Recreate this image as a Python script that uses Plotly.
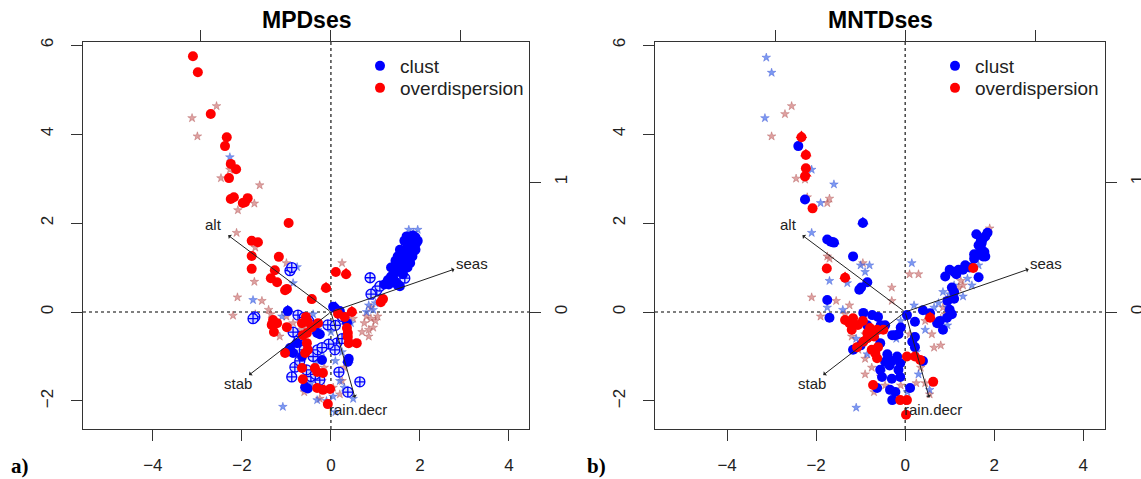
import plotly.graph_objects as go

# ---------------- data (site scores) ----------------
# Panel a) MPDses
mpd_clust = [(1.20, 0.62), (1.28, 0.72), (1.35, 0.80), (1.42, 0.88), (1.48, 0.95), (1.52, 1.02), (1.58, 1.08),
             (1.62, 1.15), (1.66, 1.22), (1.70, 1.30), (1.74, 1.38), (1.78, 1.45), (1.82, 1.52), (1.86, 1.60),
             (1.90, 1.68), (1.55, 0.90), (1.60, 0.98), (1.65, 1.05), (1.70, 1.12), (1.75, 1.20), (1.80, 1.28),
             (1.85, 1.35), (1.62, 1.30), (1.68, 1.40), (1.72, 1.50), (1.76, 1.58), (1.80, 1.65), (1.84, 1.72),
             (1.50, 0.60), (1.45, 0.68), (1.40, 0.75), (1.88, 1.45), (1.92, 1.55), (1.58, 1.20), (1.78, 1.10),
             (1.83, 1.25), (1.35, 1.00), (1.45, 1.15), (1.50, 1.25), (1.55, 1.40), (1.65, 1.60), (1.70, 1.70),
             (1.62, 0.85), (1.72, 1.00), (1.90, 1.40), (1.95, 1.60), (1.30, 0.62), (1.55, 0.58),
             (-0.97, 0.02), (0.10, 0.08), (0.05, 0.12), (-0.31, -0.47), (-0.25, -0.50),
             (-0.76, -0.70), (-0.92, -0.81), (-0.85, -0.92), (-0.20, -1.08), (-0.58, -1.69), (-0.52, -1.72),
             (0.38, -1.12), (0.40, -1.05), (0.36, -0.24), (-0.65, -1.00), (0.20, 0.02)]
mpd_over = [(-3.10, 5.75), (-2.99, 5.39), (-2.70, 4.45), (-2.34, 3.93), (-2.38, 3.73), (-2.25, 3.33), (-2.13, 3.21),
            (-2.29, 3.01), (-2.25, 2.54), (-2.18, 2.58), (-1.98, 2.45), (-1.87, 2.56), (-1.93, 2.47), (-0.95, 2.00),
            (-1.78, 1.60), (-1.64, 1.57), (-1.78, 1.26), (-1.17, 1.24), (-1.78, 0.97), (-1.26, 0.94), (-1.35, 0.76),
            (-1.21, 0.67), (-0.99, 0.52), (-1.03, 0.49), (-0.43, 0.29), (0.11, 0.90), (0.34, 0.85), (-0.11, 0.54),
            (1.17, 0.29), (1.12, 0.22), (0.16, -0.04), (0.47, 0.00), (0.31, -0.11), (0.36, -0.36), (0.38, -0.56),
            (-1.30, -0.18), (-1.33, -0.29), (-1.21, -0.25), (-1.28, -0.45), (-0.99, -0.34), (-0.56, -0.11),
            (-0.52, -0.22), (-0.65, -0.25), (-0.43, -0.34), (-0.29, -0.25), (-0.54, -0.47), (-0.63, -0.52),
            (-0.54, -0.70), (-0.52, -0.85), (-1.03, -0.92), (-0.58, -0.92), (-0.65, -1.26), (-0.63, -1.51),
            (-0.36, -1.26), (-0.31, -1.35), (-0.18, -1.37), (-0.31, -1.71), (-0.18, -1.75), (-0.02, -1.73),
            (-0.07, -2.07), (0.40, -0.70), (0.58, -0.70), (0.38, -0.47)]
mpd_clust_open = [(-1.71, -0.11), (-1.75, -0.15), (-0.74, -0.07), (-0.60, -0.12), (-0.07, -0.29), (0.13, -0.70),
                  (0.09, -0.85), (-0.81, -1.24), (-0.88, -1.46), (-0.25, -1.53), (0.65, -1.57), (0.38, -1.80),
                  (-0.92, 0.93), (-0.88, 1.00), (0.25, -0.60), (-0.45, -1.45), (-0.35, -1.40), (-0.60, -0.85),
                  (-0.70, -1.10), (-0.40, -1.00), (-0.55, -1.30), (-0.72, -0.55), (0.25, -0.10), (0.10, -0.30),
                  (-0.30, -0.85), (0.88, 0.77), (1.66, 0.76), (1.03, 0.49), (1.10, 0.58), (0.90, 0.40),
                  (-0.05, -0.72), (-0.85, -0.45), (-0.50, -0.20), (-0.20, -0.80), (0.18, -1.35)]
mpd_clust_ns = [(-2.27, 3.48), (-0.76, 1.01), (-1.75, 0.27), (-0.85, 0.65), (-1.08, -2.13), (-0.31, -1.98),
                (-0.10, -2.00), (0.10, -2.25), (0.95, 0.45), (0.90, 0.35), (0.85, 0.15), (0.95, 0.05), (1.00, 0.20),
                (1.10, 0.35), (0.80, 0.00), (1.75, 1.85), (1.95, 1.85), (1.85, 1.78), (-0.90, -0.80), (-1.00, -0.90),
                (-0.75, -0.95), (0.00, -0.45), (-0.20, -0.90), (-0.45, -1.60), (-0.60, -1.50), (0.25, -0.90),
                (0.10, -1.10), (0.30, -1.70), (0.50, -1.95), (0.20, -1.55), (-0.35, -1.10), (-0.65, -0.75),
                (-1.10, -0.10), (-0.40, -0.05), (0.05, -1.90), (-0.30, -0.40), (0.45, -0.25), (0.55, -0.70)]
mpd_over_ns = [(-2.57, 4.63), (-3.12, 4.36), (-3.00, 3.95), (-2.27, 3.20), (-2.47, 3.01), (-1.60, 2.85),
               (-1.72, 2.44), (-2.09, 2.29), (-2.12, 1.78), (-1.70, 1.45), (-1.72, 0.68), (-2.10, 0.33),
               (-1.55, 0.25), (-2.20, -0.08), (-1.70, -0.05), (-1.40, 0.05), (-1.35, -0.05), (-1.00, 1.10),
               (-0.55, -0.30), (0.25, 1.10), (0.80, -0.10), (0.90, -0.15), (0.75, -0.25), (0.85, -0.40),
               (0.95, -0.35), (1.00, -0.20), (1.05, -0.10), (0.90, 0.10), (0.85, -0.55), (0.70, -0.45),
               (-1.00, -0.10), (-0.85, -0.25), (-0.70, -0.40), (-1.15, -0.55), (-0.45, -0.90), (-0.30, -1.05),
               (-0.15, -1.25), (-0.45, -1.35), (-0.20, -1.55), (0.25, -1.55), (0.35, -1.80), (0.05, -1.70),
               (-0.60, -1.80), (-0.25, -1.95), (0.20, -1.85), (-0.65, -1.10), (0.30, -1.25), (0.50, -0.15),
               (0.40, -0.65), (0.15, -0.30)]
mpd_clust_tri = [(-0.97, 0.05), (0.10, 0.13), (-0.30, -0.44), (0.38, -1.08), (-0.55, -1.66), (-0.82, -0.70),
                 (0.36, -0.20)]
mpd_over_tri = [(-0.11, 0.57), (0.34, 0.88), (0.47, 0.03)]

# Panel b) MNTDses
mntd_clust = [(-2.40, 3.73), (-2.25, 2.53), (-0.95, 2.00), (-1.75, 1.63), (-1.67, 1.58), (-1.60, 1.56),
              (-1.17, 1.25), (-0.85, 0.67), (-0.99, 0.55), (-1.03, 0.50), (-1.75, 0.27), (-1.70, -0.13),
              (-0.94, -0.02), (-0.74, -0.07), (-0.61, -0.11), (-0.55, -0.30), (-0.60, -0.40), (-0.29, -0.52),
              (-0.22, -0.52), (-0.10, -0.35), (0.04, -0.07), (0.22, -0.22), (0.40, 0.04), (0.56, -0.03),
              (0.72, -0.25), (0.85, -0.40), (0.78, -0.20), (0.94, -0.13), (1.00, 0.05), (1.05, -0.05), (0.95, 0.25),
              (1.05, 0.55), (1.10, 0.45), (1.10, 0.30), (0.90, 0.80), (0.22, -0.79), (0.22, -0.56), (0.16, -0.67),
              (-0.18, -1.00), (-0.30, -1.10), (-0.11, -1.15), (-0.11, -1.46), (-0.15, -1.30), (-0.56, -0.70),
              (-0.45, -1.12), (-0.56, -1.30), (-0.52, -1.46), (-0.30, -1.50), (-0.63, -1.71), (-0.34, -1.75),
              (-0.22, -1.80), (0.40, -1.10), (0.11, -1.71), (-0.29, -1.98), (-0.35, -1.20), (-1.17, -0.85),
              (-1.00, -0.75), (-0.40, -0.95), (-0.85, -0.30), (-0.45, -0.30), (-0.15, -0.50), (1.00, 0.95),
              (1.10, 0.90), (1.15, 0.85), (1.20, 0.95), (1.35, 1.05), (1.55, 1.30), (1.62, 1.30), (1.70, 1.30),
              (1.75, 1.25), (1.78, 1.35), (1.65, 1.50), (1.70, 1.60), (1.75, 1.65), (1.80, 1.70), (1.85, 1.78),
              (1.60, 1.75), (1.70, 1.45), (1.65, 0.78), (1.55, 1.20), (1.72, 1.55), (1.45, 1.00), (1.30, 0.95),
              (1.80, 1.25)]
mntd_over = [(-2.33, 3.93), (-2.23, 3.53), (-2.23, 3.23), (-2.25, 3.05), (-2.08, 2.33), (-1.76, 0.98),
             (-1.35, 0.77), (1.53, 0.99), (0.56, -0.13), (-1.35, -0.18), (-1.17, -0.14), (-1.06, -0.29),
             (-1.20, -0.40), (-0.79, -0.36), (-0.63, -0.40), (-0.49, -0.40), (-0.85, -0.47), (-0.85, -0.59),
             (-0.94, -0.67), (-1.08, -0.79), (-0.61, -0.79), (-0.67, -0.93), (-0.63, -1.04), (-0.75, -0.85),
             (0.04, -1.00), (0.22, -1.00), (0.34, -1.08), (0.63, -1.57), (-0.72, -1.64), (-0.11, -1.98),
             (0.04, -1.98), (0.02, -2.31), (-1.25, -0.25), (-0.95, -0.20), (-0.70, -0.55)]
mntd_clust_ns = [(-3.12, 5.72), (-3.00, 5.38), (-3.15, 4.36), (-2.10, 3.20), (-1.60, 2.87), (-1.90, 2.45),
                 (-2.10, 1.78), (-1.00, 1.05), (-0.80, 1.05), (-0.90, 0.90), (-1.70, 0.70), (-1.30, 0.65),
                 (-1.75, 0.10), (-1.40, 0.05), (0.15, 1.10), (-1.10, -2.15), (1.10, 0.60), (1.00, 0.40),
                 (1.30, 0.35), (0.75, 0.20), (0.65, 0.10), (0.95, -0.30), (1.40, 0.75), (-0.35, -1.20),
                 (0.25, -0.90), (0.05, -1.80), (-0.60, -0.65), (-0.20, -0.60), (0.30, -1.40), (-0.85, -0.95),
                 (0.45, -0.40), (-1.10, -0.60), (0.95, 0.10), (0.20, 0.15), (-0.50, -1.25), (0.55, -1.75),
                 (-0.10, -0.20), (0.85, 0.45), (1.65, 1.05), (1.50, 0.60)]
mntd_over_ns = [(-2.55, 4.63), (-2.70, 4.45), (-3.00, 3.95), (-2.45, 3.00), (-2.25, 2.98), (-1.75, 2.45),
                (-1.70, 2.55), (-2.20, 2.58), (-1.75, 1.25), (-1.70, 1.20), (-2.10, 0.33), (-1.55, 0.25),
                (-1.35, -0.05), (-1.90, -0.10), (-0.30, 0.55), (0.30, 0.85), (0.10, 0.85), (-0.95, 1.10),
                (-0.30, 0.25), (1.90, 1.88), (1.25, 0.70), (1.20, 0.55), (1.05, 0.45), (0.95, 0.30), (0.85, 0.10),
                (1.30, 0.60), (0.90, -0.05), (0.80, -0.15), (0.70, -0.25), (0.45, -0.20), (-1.30, -0.20),
                (-1.20, -0.55), (-0.90, -0.50), (-1.05, -0.85), (-0.90, -1.05), (-0.75, -1.25), (-0.90, -1.40),
                (-0.55, -1.45), (-0.45, -1.65), (-0.70, -1.80), (0.35, -1.25), (0.45, -1.60), (0.55, -1.85),
                (0.25, -1.60), (-0.10, -1.65), (-1.25, 0.15), (0.10, -0.50), (0.60, -0.50), (0.65, -0.80),
                (0.80, -0.75)]
mntd_clust_tri = [(-0.95, 2.03), (-1.60, 1.58)]
mntd_over_tri = [(-2.33, 3.97), (-2.23, 3.56), (-1.35, 0.80), (0.56, -0.10), (-2.23, 3.10)]

# Environmental vectors (biplot arrows, secondary scale)
arrow_names = ["alt", "seas", "stab", "rain.decr"]
arrow_x = [-0.79, 0.95, -0.63, 0.185]
arrow_y = [0.59, 0.33, -0.485, -0.66]

panel_titles = ["MPDses", "MNTDses"]
panel_tags = ["a)", "b)"]
x_ticks = [-4, -2, 0, 2, 4]
y_ticks = [-2, 0, 2, 4, 6]
arrow_xticks = [-1, 0, 1]
arrow_yticks = [0, 1]

# ---------------- styling ----------------
W, H = 1141, 479
BLUE, RED = "#0000FF", "#FF0000"
STAR_BLUE, STAR_RED = "rgba(70,110,235,0.70)", "rgba(205,110,110,0.65)"
FONT = "Liberation Sans, Arial, sans-serif"
AXC = "#333333"
SCALE = 130 / 44.5   # primary units per arrow unit

panels = [
    dict(xdom=[83 / W, 529 / W], xr=[-5.57, 4.45], xa="x", ya="y", xa2="x3", ya2="y3",
         legends=("legend", "legend3"), lx=360,
         clust=mpd_clust, over=mpd_over, copen=mpd_clust_open, cns=mpd_clust_ns, ons=mpd_over_ns,
         ctri=mpd_clust_tri, otri=mpd_over_tri),
    dict(xdom=[655 / W, 1105 / W], xr=[-5.62, 4.49], xa="x2", ya="y2", xa2="x4", ya2="y4",
         legends=("legend2", "legend4"), lx=935,
         clust=mntd_clust, over=mntd_over, copen=[], cns=mntd_clust_ns, ons=mntd_over_ns,
         ctri=mntd_clust_tri, otri=mntd_over_tri),
]
yr = [-2.63, 6.07]
ydom = [1 - 429 / H, 1 - 42 / H]

fig = go.Figure()


def xs(pts):
    return [p[0] for p in pts]


def ys(pts):
    return [p[1] for p in pts]


for p in panels:
    common = dict(xaxis=p["xa"], yaxis=p["ya"], mode="markers")
    fig.add_trace(go.Scatter(x=xs(p["ons"]), y=ys(p["ons"]), showlegend=False, hoverinfo="skip",
                             marker=dict(symbol="star", size=6.5, color=STAR_RED,
                                         line=dict(color="rgba(170,70,70,0.7)", width=0.5)), **common))
    fig.add_trace(go.Scatter(x=xs(p["cns"]), y=ys(p["cns"]), showlegend=False, hoverinfo="skip",
                             marker=dict(symbol="star", size=6.5, color=STAR_BLUE,
                                         line=dict(color="rgba(40,70,210,0.7)", width=0.5)), **common))
    if p["copen"]:
        fig.add_trace(go.Scatter(x=xs(p["copen"]), y=ys(p["copen"]), showlegend=False, hoverinfo="skip",
                                 marker=dict(symbol="circle-cross", size=10, color="rgba(215,222,255,0.9)",
                                             line=dict(color=BLUE, width=1.3)), **common))
    fig.add_trace(go.Scatter(x=xs(p["clust"]), y=ys(p["clust"]), name="clust", showlegend=True,
                             legend=p["legends"][0],
                             marker=dict(symbol="circle", size=10, color=BLUE), **common))
    fig.add_trace(go.Scatter(x=xs(p["ctri"]), y=ys(p["ctri"]), showlegend=False, hoverinfo="skip",
                             marker=dict(symbol="triangle-up", size=10, color=BLUE), **common))
    fig.add_trace(go.Scatter(x=xs(p["over"]), y=ys(p["over"]), name="overdispersion", showlegend=True,
                             legend=p["legends"][1],
                             marker=dict(symbol="circle", size=10, color=RED), **common))
    fig.add_trace(go.Scatter(x=xs(p["otri"]), y=ys(p["otri"]), showlegend=False, hoverinfo="skip",
                             marker=dict(symbol="triangle-up", size=10, color=RED), **common))

layout = dict(width=W, height=H, margin=dict(l=0, r=0, t=0, b=0, autoexpand=False), paper_bgcolor="white",
              plot_bgcolor="white", font=dict(family=FONT, color="#222222"), showlegend=True)

axis_font = dict(family=FONT, size=17, color="#222222")
shapes, annotations = [], []
for i, p in enumerate(panels):
    n1 = "" if i == 0 else "2"
    n2 = "3" if i == 0 else "4"
    layout["xaxis" + n1] = dict(domain=p["xdom"], range=p["xr"], anchor=p["ya"], tickvals=x_ticks,
                                ticks="outside", ticklen=11, tickcolor=AXC, tickwidth=1.2, showgrid=False,
                                zeroline=False, showline=True, linecolor=AXC, linewidth=1.4, mirror=True,
                                tickfont=axis_font, ticklabelstandoff=9, automargin=False)
    layout["yaxis" + n1] = dict(domain=ydom, range=yr, anchor=p["xa"], tickvals=y_ticks, ticks="outside",
                                ticklen=11, tickcolor=AXC, tickwidth=1.2, showgrid=False, zeroline=False,
                                showline=True, linecolor=AXC, linewidth=1.4, mirror=True, tickangle=-90,
                                tickfont=axis_font, ticklabelstandoff=11, automargin=False)
    layout["xaxis" + n2] = dict(overlaying=p["xa"], side="top", anchor=p["ya"],
                                range=[v / SCALE for v in p["xr"]], tickvals=arrow_xticks,
                                showticklabels=False, ticks="outside", ticklen=11, tickcolor=AXC,
                                tickwidth=1.2, showgrid=False, zeroline=False, showline=False, automargin=False)
    layout["yaxis" + n2] = dict(overlaying=p["ya"], side="right", anchor=p["xa"],
                                range=[v / SCALE for v in yr], tickvals=arrow_yticks, ticks="outside",
                                ticklen=11, tickcolor=AXC, tickwidth=1.2, showgrid=False, zeroline=False,
                                showline=False, tickangle=-90, tickfont=axis_font, ticklabelstandoff=6,
                                automargin=False)
    # dotted reference lines through the origin
    shapes.append(dict(type="line", xref=p["xa"], yref=p["ya"] + " domain", x0=0, x1=0, y0=0, y1=1,
                       line=dict(color="black", width=1.1, dash="dot"), layer="below"))
    shapes.append(dict(type="line", xref=p["xa"] + " domain", yref=p["ya"], x0=0, x1=1, y0=0, y1=0,
                       line=dict(color="black", width=1.1, dash="dot"), layer="below"))
    # arrows and labels
    for name, ax_, ay_ in zip(arrow_names, arrow_x, arrow_y):
        annotations.append(dict(x=ax_, y=ay_, ax=0, ay=0, xref=p["xa2"], yref=p["ya2"], axref=p["xa2"],
                                ayref=p["ya2"], showarrow=True, arrowhead=1, arrowsize=0.9, arrowwidth=1,
                                arrowcolor="#222222", text=""))
        annotations.append(dict(x=ax_ * 1.14, y=ay_ * 1.14, xref=p["xa2"], yref=p["ya2"], text=name,
                                showarrow=False, xanchor="center", yanchor="middle",
                                font=dict(family=FONT, size=15, color="#222222")))
    # titles and panel tags
    cx = (p["xdom"][0] + p["xdom"][1]) / 2
    annotations.append(dict(x=cx, y=1 - 20 / H, xref="paper", yref="paper", text="<b>%s</b>" % panel_titles[i],
                            showarrow=False, xanchor="center", yanchor="middle",
                            font=dict(family=FONT, size=23, color="black")))
    annotations.append(dict(x=(20 if i == 0 else 596) / W, y=1 - 466 / H, xref="paper", yref="paper",
                            text="<b>%s</b>" % panel_tags[i], showarrow=False, xanchor="center",
                            yanchor="middle",
                            font=dict(family="Liberation Serif, DejaVu Serif, serif", size=21, color="black")))
    # one legend box per entry so the rows sit where the reference has them
    for leg, yc in zip(p["legends"], (66, 88)):
        layout[leg] = dict(x=p["lx"] / W, y=1 - yc / H, xanchor="left", yanchor="middle",
                           bgcolor="rgba(0,0,0,0)", font=dict(family=FONT, size=19, color="#222222"),
                           itemsizing="trace")

layout["shapes"] = shapes
layout["annotations"] = annotations

fig.update_layout(**layout)
fig.write_html("out.html", config={"displayModeBar": False},
               post_script="document.body.style.margin='0';document.body.style.overflow='hidden';")
